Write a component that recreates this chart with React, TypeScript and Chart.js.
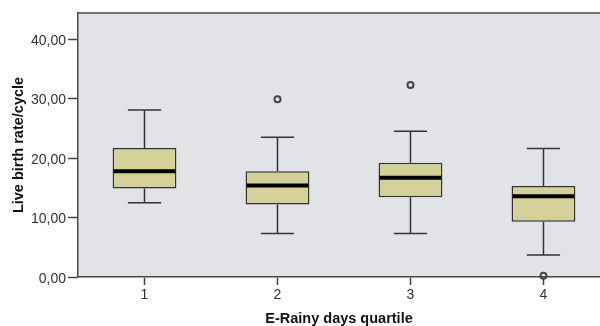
import React, { useEffect, useRef } from "react";
import { Chart, registerables } from "chart.js";

Chart.register(...registerables);

const categories = [1, 2, 3, 4];
const whiskerLow = [12.5, 7.3, 7.3, 3.7];
const q1 = [14.9, 12.2, 13.4, 9.3];
const median = [17.8, 15.4, 16.7, 13.6];
const q3 = [21.7, 17.8, 19.2, 15.3];
const whiskerHigh = [28.1, 23.5, 24.5, 21.6];
const outlierCategory = [2, 3, 4];
const outlierValue = [29.9, 32.3, 0.2];
const yTicks = [0, 10, 20, 30, 40];

const FONT = "'Liberation Sans', Arial, sans-serif";

const boxPlugin = {
  id: "boxExtras",
  beforeDraw(chart: any) {
    const { ctx, chartArea } = chart;
    ctx.save();
    ctx.fillStyle = "#e2e3e7";
    ctx.fillRect(chartArea.left, chartArea.top, chartArea.right - chartArea.left, chartArea.bottom - chartArea.top);
    ctx.restore();
  },
  afterDatasetsDraw(chart: any) {
    const { ctx, chartArea, scales } = chart;
    const xs = scales.x;
    const ys = scales.y;
    ctx.save();
    ctx.strokeStyle = "#4a4a4a";
    ctx.lineWidth = 1.5;
    ctx.beginPath();
    ctx.moveTo(chartArea.left, chartArea.top);
    ctx.lineTo(chartArea.right, chartArea.top);
    ctx.stroke();
    const meta = chart.getDatasetMeta(0);
    categories.forEach((c, i) => {
      const cx = xs.getPixelForValue(c);
      const capL = xs.getPixelForValue(c - 0.125);
      const capR = xs.getPixelForValue(c + 0.125);
      ctx.strokeStyle = "#333";
      ctx.lineWidth = 1.5;
      ctx.beginPath();
      ctx.moveTo(cx, ys.getPixelForValue(q3[i]));
      ctx.lineTo(cx, ys.getPixelForValue(whiskerHigh[i]));
      ctx.moveTo(capL, ys.getPixelForValue(whiskerHigh[i]));
      ctx.lineTo(capR, ys.getPixelForValue(whiskerHigh[i]));
      ctx.moveTo(cx, ys.getPixelForValue(q1[i]));
      ctx.lineTo(cx, ys.getPixelForValue(whiskerLow[i]));
      ctx.moveTo(capL, ys.getPixelForValue(whiskerLow[i]));
      ctx.lineTo(capR, ys.getPixelForValue(whiskerLow[i]));
      ctx.stroke();
      const bar = meta.data[i] as any;
      const half = bar.width / 2;
      ctx.strokeStyle = "#000";
      ctx.lineWidth = 4;
      ctx.beginPath();
      const my = ys.getPixelForValue(median[i]);
      ctx.moveTo(cx - half + 1, my);
      ctx.lineTo(cx + half - 1, my);
      ctx.stroke();
    });
    ctx.restore();
  },
};

export default function App() {
  const ref = useRef<HTMLCanvasElement>(null);
  useEffect(() => {
    if (!ref.current) return;
    const chart = new Chart(ref.current, {
      type: "bar",
      data: {
        datasets: [
          {
            type: "bar",
            data: categories.map((c, i) => ({ x: c, y: [q1[i], q3[i]] })) as any,
            backgroundColor: "#d4d09a",
            borderColor: "#333",
            borderWidth: 1.5,
            borderSkipped: false,
            barPercentage: 0.48,
            categoryPercentage: 1,
          },
          {
            type: "scatter",
            data: outlierCategory.map((c, i) => ({ x: c, y: outlierValue[i] })) as any,
            pointRadius: 3,
            pointBorderWidth: 2,
            pointBorderColor: "#444",
            pointBackgroundColor: "rgba(0,0,0,0)",
            clip: false as any,
          } as any,
        ],
      },
      options: {
        responsive: false,
        animation: false,
        devicePixelRatio: 1,
        layout: { autoPadding: false, padding: { top: 13, left: 0, right: 0, bottom: 0 } },
        plugins: { legend: { display: false }, tooltip: { enabled: false } },
        scales: {
          x: {
            type: "linear",
            offset: false,
            min: 0.5,
            max: 4.425,
            afterBuildTicks: (s: any) => {
              s.ticks = categories.map((v) => ({ value: v }));
            },
            afterFit: (s: any) => {
              s.height = 49;
            },
            grid: { offset: false, drawOnChartArea: false, drawTicks: true, tickLength: 8, tickColor: "#444", tickWidth: 1.5 },
            border: { display: true, color: "#4a4a4a", width: 1.5 },
            ticks: {
              padding: 2,
              color: "#333",
              font: { family: FONT, size: 14 },
              maxRotation: 0,
              callback: (v: any) => String(v),
            },
            title: {
              display: true,
              text: "E-Rainy days quartile",
              color: "#111",
              font: { family: FONT, size: 14.5, weight: "bold", lineHeight: 1 },
              padding: { top: 0, bottom: 0 },
            },
          },
          y: {
            min: 0,
            max: 44.4,
            afterBuildTicks: (s: any) => {
              s.ticks = yTicks.map((v) => ({ value: v }));
            },
            afterFit: (s: any) => {
              s.width = 78;
            },
            grid: { drawOnChartArea: false, drawTicks: true, tickLength: 10, tickColor: "#444", tickWidth: 1.5 },
            border: { display: true, color: "#4a4a4a", width: 1.5 },
            ticks: {
              padding: 2,
              labelOffset: 2,
              color: "#333",
              font: { family: FONT, size: 14 },
              callback: (v: any) => Number(v).toFixed(2).replace(".", ","),
            },
            title: {
              display: true,
              text: "Live birth rate/cycle",
              color: "#111",
              font: { family: FONT, size: 14.5, weight: "bold" },
              padding: { top: 10, bottom: 0 },
            },
          },
        },
      },
      plugins: [boxPlugin],
    });
    return () => chart.destroy();
  }, []);
  return (
    <div style={{ position: "absolute", left: 0, top: 0, width: 600, height: 326, background: "#fff" }}>
      <canvas ref={ref} width={600} height={326} style={{ display: "block" }} />
    </div>
  );
}
